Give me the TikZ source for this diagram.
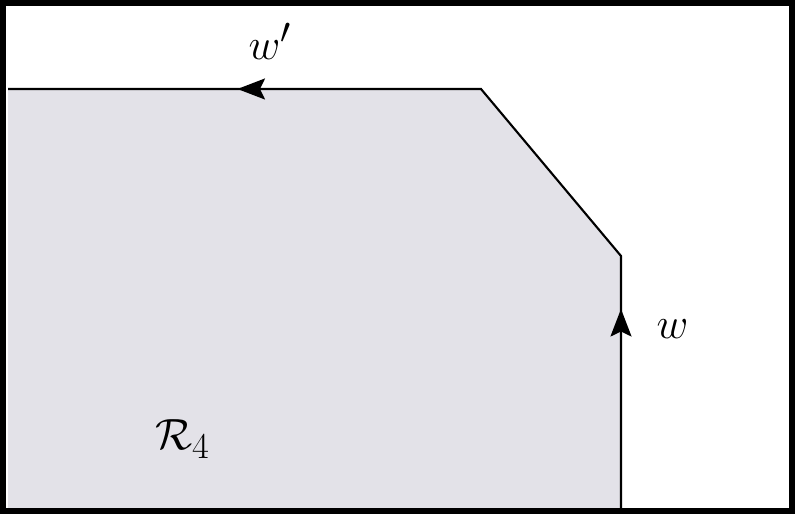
\documentclass[tikz,border=0pt]{standalone}
\usetikzlibrary{arrows.meta}
\definecolor{regfill}{HTML}{E3E2E8}
\begin{document}
\begin{tikzpicture}[
  edge/.style={line width=1.2pt},
  tip/.style={-{Stealth[length=0.55cm,width=0.42cm,inset=0.1cm]},line width=1.2pt},
  lbl/.style={font=\fontsize{30}{33}\selectfont}]
\useasboundingbox (0,0) rectangle (15.9,10.28);
\coordinate (tl) at (0.16,8.5);
\coordinate (tr) at (9.62,8.5);
\coordinate (cr) at (12.42,5.16);
\coordinate (br) at (12.42,0.12);
\coordinate (bl) at (0.16,0.12);
\coordinate (aw) at (4.75,8.5);
\coordinate (av) at (12.42,4.1);
\fill[regfill] (tl) -- (tr) -- (cr) -- (br) -- (bl) -- cycle;
\draw[edge] (br) -- (cr) -- (tr) -- (tl);
\draw[tip] (tr) -- (aw);
\draw[tip] (br) -- (av);
\draw[line width=3.2pt] (0.06,0.06) rectangle (15.84,10.22);
\node[lbl] (wp) at (5.4,9.45) {$w'$};
\node[lbl] (w) at (13.45,3.7) {$w$};
\node[lbl] (R) at (3.65,1.5) {$\mathcal{R}_4$};
\end{tikzpicture}
\end{document}
